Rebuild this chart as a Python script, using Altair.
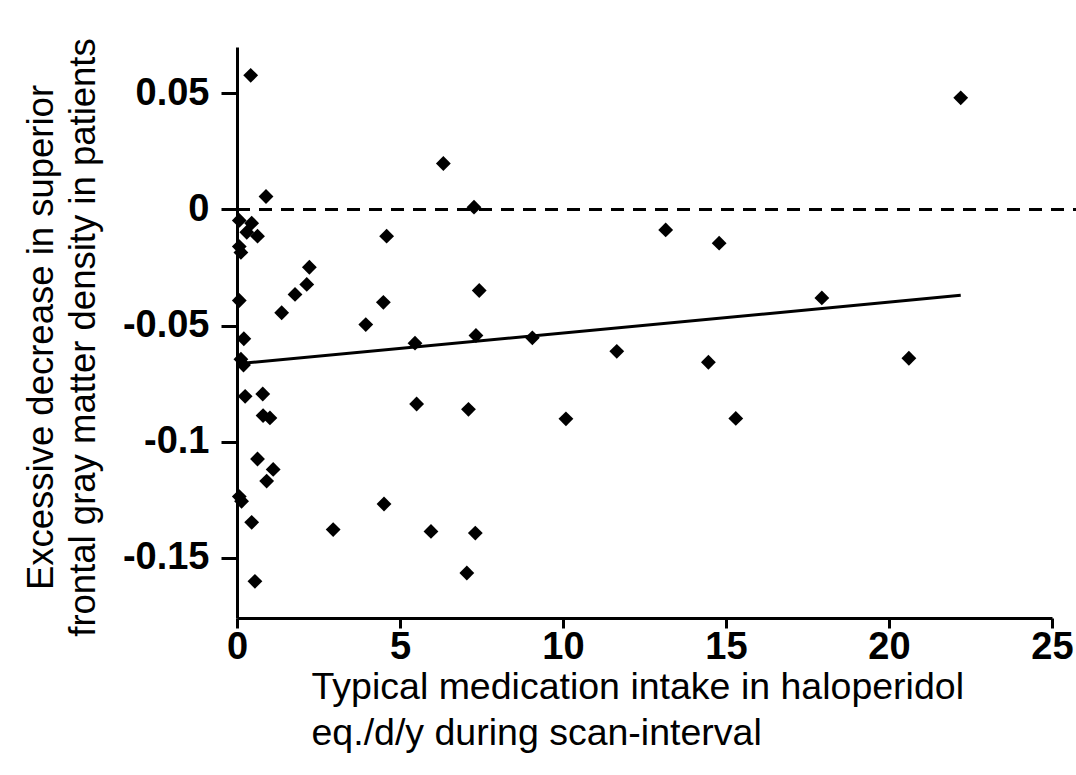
import altair as alt
import pandas as pd

# Scatter data: typical medication intake (haloperidol eq./d/y) vs excessive decrease
intake = [0.42, 0.89, 0.07, 0.45, 0.30, 0.63, 0.07, 0.12, 0.07, 0.21,
          0.12, 0.20, 0.25, 0.79, 0.80, 1.01, 0.63, 1.11, 0.91, 0.07,
          0.14, 0.45, 0.55, 1.37, 1.78, 2.14, 2.22, 2.95, 3.95, 4.49,
          4.59, 4.51, 5.46, 5.51, 5.95, 6.33, 7.27, 7.43, 7.33, 7.10,
          7.31, 7.05, 9.06, 10.09, 11.65, 13.15, 14.46, 14.79, 15.30, 17.94,
          20.61, 22.20]
decrease = [0.0578, 0.0056, -0.0047, -0.0059, -0.0098, -0.0115, -0.0160, -0.0185, -0.0392, -0.0557,
            -0.0645, -0.0670, -0.0805, -0.0795, -0.0888, -0.0898, -0.1075, -0.1120, -0.1170, -0.1237,
            -0.1257, -0.1348, -0.1602, -0.0445, -0.0366, -0.0323, -0.0249, -0.1379, -0.0496, -0.0400,
            -0.0115, -0.1269, -0.0576, -0.0838, -0.1387, 0.0198, 0.0010, -0.0349, -0.0543, -0.0861,
            -0.1394, -0.1566, -0.0553, -0.0902, -0.0611, -0.0088, -0.0658, -0.0145, -0.0900, -0.0381,
            -0.0641, 0.0481]

# Linear fit endpoints
fit_x = [0.0, 22.2]
fit_y = [-0.0665, -0.0370]

x_ticks = [0, 5, 10, 15, 20, 25]
y_ticks = [-0.15, -0.1, -0.05, 0, 0.05]
y_tick_labels = ["-0.15", "-0.1", "-0.05", "0", "0.05"]

x_title = ["Typical medication intake in haloperidol", "eq./d/y during scan-interval"]
y_title = ["Excessive decrease in superior", "frontal gray matter density in patients"]

pts = pd.DataFrame({"x": intake, "y": decrease})
fit = pd.DataFrame({"x": fit_x, "y": fit_y})
zero = pd.DataFrame({"y": [0.0]})

W, H = 815, 571
X_DOM = [0, 25]
Y_DOM = [-0.176, 0.07]

label_expr = " : ".join(
    [f"datum.value == {v} ? '{l}'" for v, l in zip(y_ticks, y_tick_labels)]
) + " : ''"

FONT = "Liberation Sans"

x_enc = alt.X(
    "x:Q",
    scale=alt.Scale(domain=X_DOM, nice=False, zero=False),
    axis=alt.Axis(
        values=x_ticks, format="d", title=x_title, grid=False,
        domainColor="black", domainWidth=3, tickColor="black", tickWidth=3, tickSize=10,
        labelFont=FONT, labelFontWeight="bold", labelFontSize=38, labelColor="black",
        labelPadding=0, labelFlush=False,
        titleFont=FONT, titleFontWeight="normal", titleFontSize=37.5, titleColor="black",
        titleAlign="left", titleX=74, titleY=80, titleBaseline="alphabetic",
        titleLineHeight=46, titleAnchor="start",
    ),
)
y_enc = alt.Y(
    "y:Q",
    scale=alt.Scale(domain=Y_DOM, nice=False, zero=False),
    axis=alt.Axis(
        values=y_ticks, labelExpr=label_expr, title=y_title, grid=False,
        domainColor="black", domainWidth=3, tickColor="black", tickWidth=3, tickSize=16,
        labelFont=FONT, labelFontWeight="bold", labelFontSize=38, labelColor="black",
        labelPadding=12, labelFlush=False,
        titleFont=FONT, titleFontWeight="normal", titleFontSize=36.5, titleColor="black",
        titleAlign="center", titleAngle=270, titleX=-185, titleY=290,
        titleBaseline="alphabetic", titleLineHeight=42,
    ),
)

points = alt.Chart(pts).mark_point(
    shape="diamond", filled=True, size=220, color="black", opacity=1
).encode(x=x_enc, y=y_enc)

line = alt.Chart(fit).mark_line(color="black", strokeWidth=3).encode(
    x=alt.X("x:Q", scale=alt.Scale(domain=X_DOM, nice=False, zero=False)),
    y=alt.Y("y:Q", scale=alt.Scale(domain=Y_DOM, nice=False, zero=False)),
)

rule = alt.Chart(zero).mark_rule(
    color="black", strokeWidth=3, strokeDash=[13, 9], clip=False
).encode(
    y=alt.Y("y:Q", scale=alt.Scale(domain=Y_DOM, nice=False, zero=False)),
    x=alt.value(0),
    x2=alt.value(W + 24),
)

chart = alt.layer(rule, line, points).properties(
    width=W, height=H,
    autosize=alt.AutoSizeParams(type="none"),
    padding={"left": 237, "top": 47, "right": 1076 - 237 - W, "bottom": 775 - 47 - H},
).configure(background="white").configure_view(stroke=None)

chart.save("out.html", embed_options={"renderer": "svg", "actions": False})
